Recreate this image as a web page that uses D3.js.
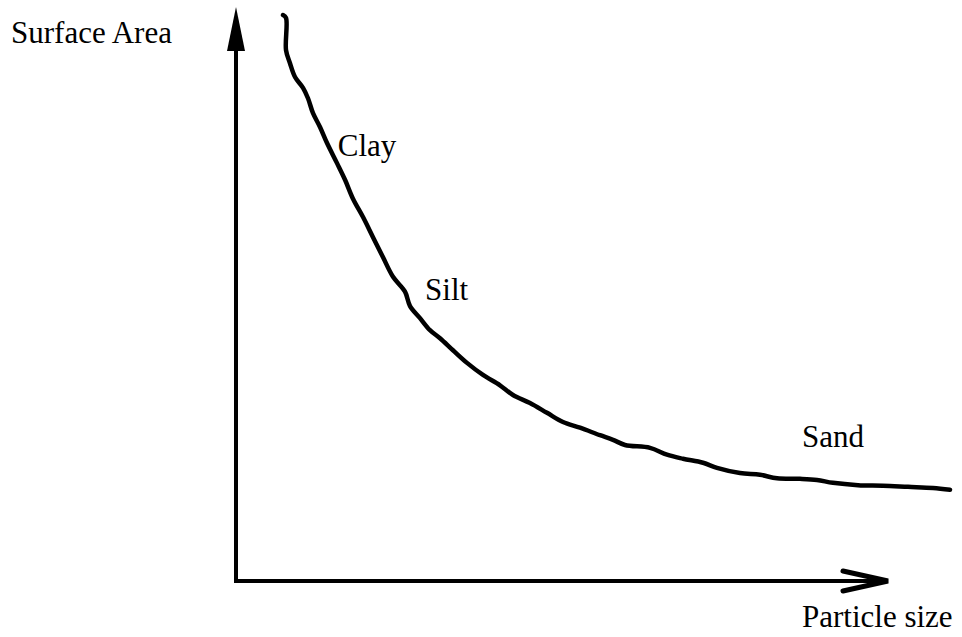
<!DOCTYPE html>
<html>
<head>
<meta charset="utf-8">
<script src="https://cdn.jsdelivr.net/npm/d3@7"></script>
<style>
  html, body { margin: 0; padding: 0; background: #fff; }
  svg { display: block; }
  text { font-family: "Liberation Serif", "Times New Roman", serif; font-size: 31px; fill: #000; }
</style>
</head>
<body>
<svg id="chart" width="962" height="637"></svg>
<script>
// Particle size (relative, 0-100 = axis length)
const particleSize = [7.21, 7.67, 7.67, 8.28, 9.05, 10.28, 11.04, 11.81, 12.88, 13.96, 15.49, 16.72, 17.94, 19.48, 21.01, 22.55, 24.08, 25.92, 26.69, 28.22, 29.75, 31.29, 33.28, 35.43, 37.88, 40.49, 42.48, 45.09, 47.70, 50.15, 52.76, 55.83, 57.82, 59.66, 63.50, 66.10, 68.56, 71.63, 73.77, 77.30, 80.37, 82.98, 86.50, 89.11, 91.56, 95.40, 99.23, 103.07, 106.90, 109.51];
// Surface area (relative, 0-100 = axis length)
const surfaceArea = [98.6, 98.1, 92.5, 90.2, 87.8, 85.9, 84.1, 81.5, 79.1, 76.3, 72.8, 69.9, 66.6, 63.4, 59.9, 56.4, 53.0, 50.4, 47.9, 45.8, 43.7, 42.3, 40.2, 38.0, 35.9, 34.1, 32.4, 31.0, 29.3, 27.7, 26.7, 25.4, 24.6, 23.7, 23.2, 22.0, 21.3, 20.6, 19.7, 18.8, 18.5, 17.9, 17.8, 17.6, 17.1, 16.7, 16.6, 16.4, 16.2, 15.9];
// Region labels placed along the curve
const regionLabels = ["Clay", "Silt", "Sand"];
const regionX = [15.6, 29.0, 86.8];
const regionY = [74.0, 49.0, 23.3];
const xAxisTitle = "Particle size";
const yAxisTitle = "Surface Area";

const svg = d3.select("#chart");
const x0 = 236, x1 = 888, y0 = 581, y1 = 7;
const x = d3.scaleLinear().domain([0, 100]).range([x0, x1]);
const y = d3.scaleLinear().domain([0, 100]).range([y0, y1]);

// Y axis with filled arrowhead
svg.append("line")
  .attr("x1", x(0)).attr("y1", y0 + 2)
  .attr("x2", x(0)).attr("y2", y(100) + 40)
  .attr("stroke", "#000").attr("stroke-width", 4);
svg.append("path")
  .attr("d", `M${x(0)},${y(100)} L${x(0) - 9},${y(100) + 44} L${x(0) + 9},${y(100) + 44} Z`)
  .attr("fill", "#000");

// X axis with open chevron arrowhead
svg.append("line")
  .attr("x1", x(0) - 2).attr("y1", y(0))
  .attr("x2", x(100)).attr("y2", y(0))
  .attr("stroke", "#000").attr("stroke-width", 4);
svg.append("path")
  .attr("d", `M${x(100) - 45},${y(0) - 10} L${x(100)},${y(0)} L${x(100) - 45},${y(0) + 10}`)
  .attr("fill", "none").attr("stroke", "#000").attr("stroke-width", 5)
  .attr("stroke-linecap", "round").attr("stroke-linejoin", "miter");

// Curve
const data = particleSize.map((p, i) => [p, surfaceArea[i]]);
svg.append("path")
  .datum(data)
  .attr("d", d3.line().x(d => x(d[0])).y(d => y(d[1])).curve(d3.curveCatmullRom.alpha(0.5)))
  .attr("fill", "none").attr("stroke", "#000").attr("stroke-width", 4.5)
  .attr("stroke-linejoin", "round").attr("stroke-linecap", "round");

// Labels
svg.selectAll("text.region")
  .data(regionLabels)
  .join("text")
  .attr("class", "region")
  .attr("x", (d, i) => x(regionX[i]))
  .attr("y", (d, i) => y(regionY[i]))
  .text(d => d);

svg.append("text").attr("x", 11).attr("y", 43).text(yAxisTitle);
svg.append("text").attr("x", 802).attr("y", 627).text(xAxisTitle);
</script>
</body>
</html>
